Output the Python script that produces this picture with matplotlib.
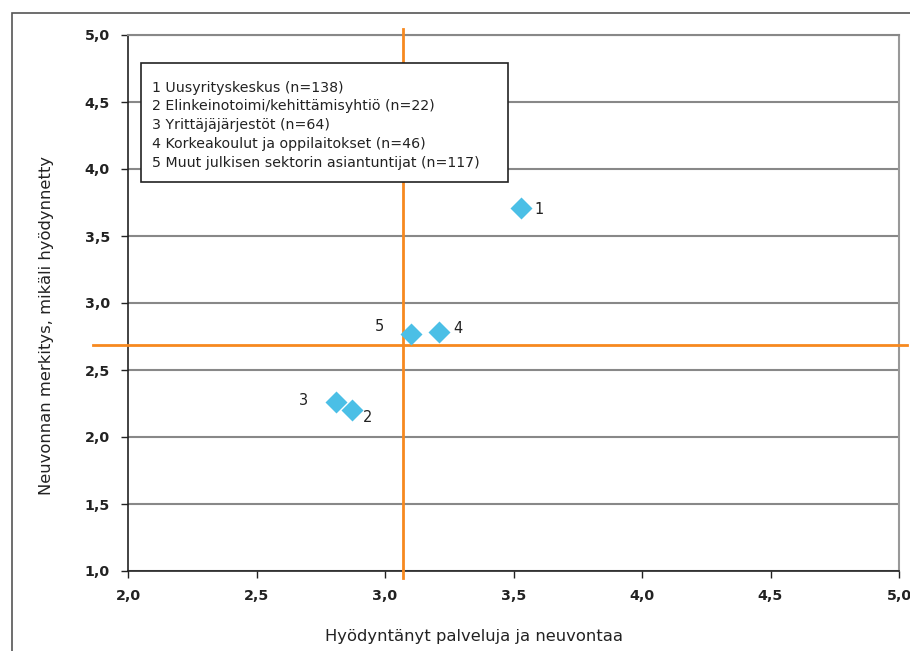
import matplotlib
matplotlib.use("Agg")
import matplotlib.pyplot as plt
from matplotlib.patches import Rectangle

# data
groups = ["1", "2", "3", "4", "5"]
used = [3.53, 2.87, 2.81, 3.21, 3.10]        # Hyödyntänyt palveluja ja neuvontaa
importance = [3.71, 2.20, 2.26, 2.78, 2.77]  # Neuvonnan merkitys
mean_x = 3.07
mean_y = 2.69
legend_lines = [
    "1 Uusyrityskeskus (n=138)",
    "2 Elinkeinotoimi/kehittämisyhtiö (n=22)",
    "3 Yrittäjäjärjestöt (n=64)",
    "4 Korkeakoulut ja oppilaitokset (n=46)",
    "5 Muut julkisen sektorin asiantuntijat (n=117)",
]
xticks = [2.0, 2.5, 3.0, 3.5, 4.0, 4.5, 5.0]
yticks = [1.0, 1.5, 2.0, 2.5, 3.0, 3.5, 4.0, 4.5, 5.0]

# label offsets in pixels
offsets = [(18, -2), (16, -7), (-33, 2), (19, 4), (-31, 7)]

plt.rcParams['font.family'] = ['DejaVu Sans']

fig = plt.figure(figsize=(9.1, 6.51), dpi=100)
ax = fig.add_axes([128/910, 1-571/651, 771/910, 536/651])

# outer frame (only left and top edges fall inside the picture)
fig.patches.append(Rectangle((12/910, -0.2), 2, 1.2 - 13/651, transform=fig.transFigure,
                             fill=False, edgecolor='#555555', lw=1.2))

ax.set_xlim(2, 5)
ax.set_ylim(1, 5)
ax.set_xticks(xticks)
ax.set_yticks(yticks)
ax.set_xticklabels([f"{t:.1f}".replace('.', ',') for t in xticks], fontsize=10.3, fontweight='bold', color='#222222')
ax.set_yticklabels([f"{t:.1f}".replace('.', ',') for t in yticks], fontsize=10.3, fontweight='bold', color='#222222')
ax.tick_params(direction='out', length=5, width=1, color='#222222', pad=8)

ax.grid(axis='y', color='#888888', lw=1.5)
ax.set_axisbelow(True)
for s in ['left', 'bottom']:
    ax.spines[s].set_color('#222222')
    ax.spines[s].set_linewidth(1.2)
ax.spines['right'].set_color('#999999')
ax.spines['right'].set_linewidth(1.5)
ax.spines['top'].set_color('#888888')
ax.spines['top'].set_linewidth(1.5)

# mean lines (reach past the axes)
ax.plot([mean_x, mean_x], [0.948, 5.045], color='#F7891F', lw=2, clip_on=False, zorder=3)
ax.plot([1.864, 5.03], [mean_y, mean_y], color='#F7891F', lw=2, clip_on=False, zorder=3)

ax.plot(used, importance, 'D', color='#4BBFE6', ms=11, mec='none', zorder=4)
for g, x, y, off in zip(groups, used, importance, offsets):
    ax.annotate(g, (x, y), xytext=off, textcoords='offset pixels', fontsize=10.5,
                ha='center', va='center', color='#222222')

# legend box
ax.add_patch(Rectangle((0.0169, 0.7257), 0.476, 0.2221, transform=ax.transAxes,
                       fc='white', ec='#222222', lw=1.2, zorder=5))
ax.text(0.031, 0.832, "\n".join(legend_lines), transform=ax.transAxes, fontsize=10.15,
        va='center', ha='left', linespacing=1.43, color='#222222', zorder=6)

fig.text(474/910, 1-636/651, "Hyödyntänyt palveluja ja neuvontaa", fontsize=11.8,
         ha='center', va='center', color='#222222')
fig.text(47/910, 1-325/651, "Neuvonnan merkitys, mikäli hyödynnetty", fontsize=11.8,
         ha='center', va='center', rotation=90, color='#222222')

fig.savefig("out.png", dpi=100)
